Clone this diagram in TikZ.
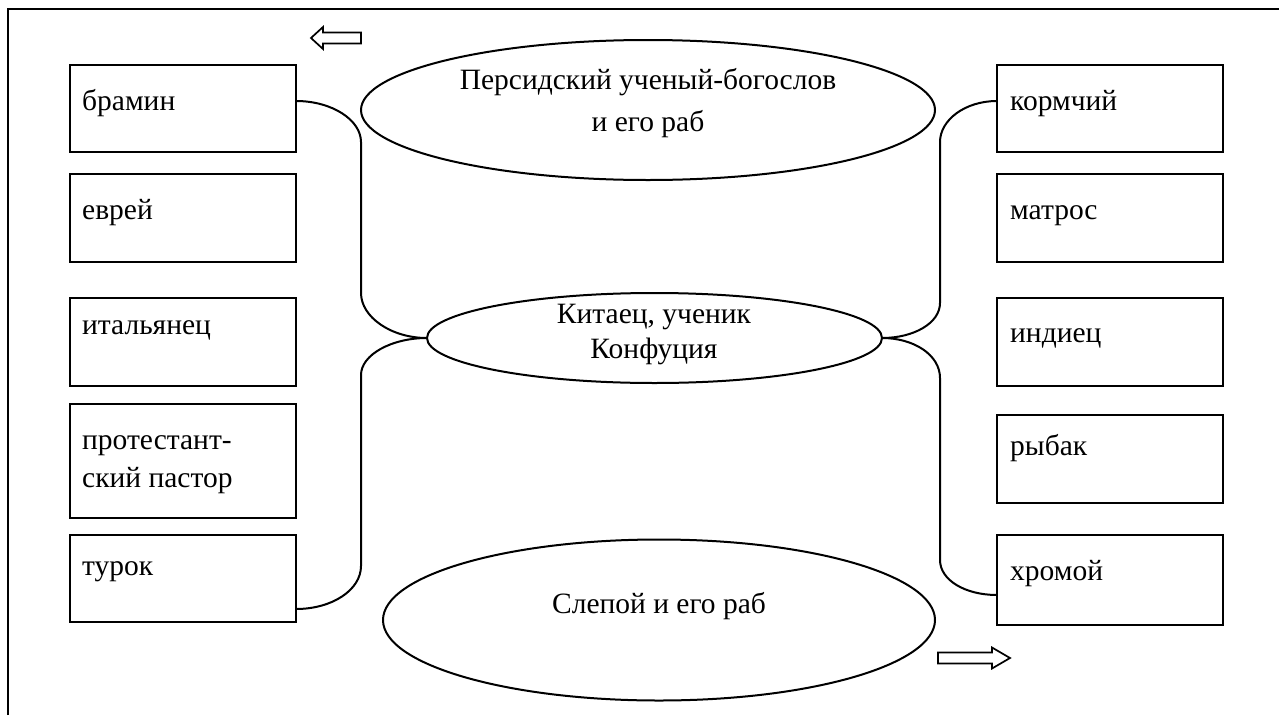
\documentclass[tikz,border=0pt]{standalone}
\usepackage{fontspec}
\setmainfont{Liberation Serif}
\usetikzlibrary{shapes.geometric}
\begin{document}
\begin{tikzpicture}[x=1pt,y=-1pt,
  box/.style={draw,line width=2pt,rectangle,anchor=north west,minimum width=226pt,inner sep=0pt,outer sep=0pt},
  oval/.style={draw,line width=2pt,ellipse,inner sep=0pt,outer sep=0pt},
  lbl/.style={anchor=base west,inner sep=0pt,font=\fontsize{29.5}{34}\selectfont},
  clbl/.style={anchor=base,inner sep=0pt,font=\fontsize{29.5}{34}\selectfont},
  conn/.style={line width=2pt},
  blockarrow/.style={draw,line width=1.7pt,line join=miter}]
\useasboundingbox (0,0) rectangle (1279,715);
% frame
\draw[line width=2.2pt] (8,715) -- (8,9) -- (1279,9);

% left boxes
\node[box,minimum height=87pt] (b1) at (70,65) {};
\node[box,minimum height=88pt] (b2) at (70,174) {};
\node[box,minimum height=88pt] (b3) at (70,298) {};
\node[box,minimum height=114pt] (b4) at (70,404) {};
\node[box,minimum height=87pt] (b5) at (70,535) {};
% right boxes
\node[box,minimum height=87pt] (r1) at (997,65) {};
\node[box,minimum height=88pt] (r2) at (997,174) {};
\node[box,minimum height=88pt] (r3) at (997,298) {};
\node[box,minimum height=88pt] (r4) at (997,415) {};
\node[box,minimum height=90pt] (r5) at (997,535) {};

% box texts
\node[lbl] (t1) at (82,110) {брамин};
\node[lbl] (t2) at (82,219) {еврей};
\node[lbl] (t3) at (82,334) {итальянец};
\node[lbl] (t4a) at (82,449) {протестант-};
\node[lbl] (t4b) at (82,487) {ский пастор};
\node[lbl] (t5) at (82,575) {турок};
\node[lbl] (s1) at (1010,110) {кормчий};
\node[lbl] (s2) at (1010,219) {матрос};
\node[lbl] (s3) at (1010,342) {индиец};
\node[lbl] (s4) at (1010,455) {рыбак};
\node[lbl] (s5) at (1010,580) {хромой};

% ellipses
\node[oval,minimum width=574pt,minimum height=140pt] (top) at (648,110) {};
\node[oval,minimum width=455pt,minimum height=90pt] (mid) at (654.5,338) {};
\node[oval,minimum width=552pt,minimum height=161pt] (bot) at (659,620) {};
\node[clbl] (topa) at (648,89) {Персидский ученый-богослов};
\node[clbl] (topb) at (648,131) {и его раб};
\node[clbl] (mida) at (654,323) {Китаец, ученик};
\node[clbl] (midb) at (654,358) {Конфуция};
\node[clbl] (bota) at (659,613) {Слепой и его раб};

% connectors
\coordinate (c1) at ([yshift=-36pt]b1.north east);
\coordinate (c5) at ([yshift=-74pt]b5.north east);
\coordinate (d1) at ([yshift=-36pt]r1.north west);
\coordinate (d5) at ([yshift=-60pt]r5.north west);
\draw[conn] (c1) .. controls (332,101) and (361,120) .. (361,142) -- (361,293)
  .. controls (361,317) and (391,338) .. (mid.west);
\draw[conn] (mid.west) .. controls (391,338) and (361,355) .. (361,375) -- (361,566)
  .. controls (361,590) and (332,609) .. (c5);
\draw[conn] (d1) .. controls (965,101) and (940,120) .. (940,142) -- (940,303)
  .. controls (940,323) and (914,338) .. (mid.east);
\draw[conn] (mid.east) .. controls (914,338) and (940,355) .. (940,378) -- (940,560)
  .. controls (940,580) and (965,595) .. (d5);

% block arrows
\draw[blockarrow] (311,38) -- (323,27) -- (323,32.5) -- (361,32.5) -- (361,43.5)
  -- (323,43.5) -- (323,49) -- cycle;
\draw[blockarrow] (1010,658) -- (992,647.5) -- (992,652.5) -- (938,652.5) -- (938,663.5)
  -- (992,663.5) -- (992,668.5) -- cycle;
\end{tikzpicture}
\end{document}
